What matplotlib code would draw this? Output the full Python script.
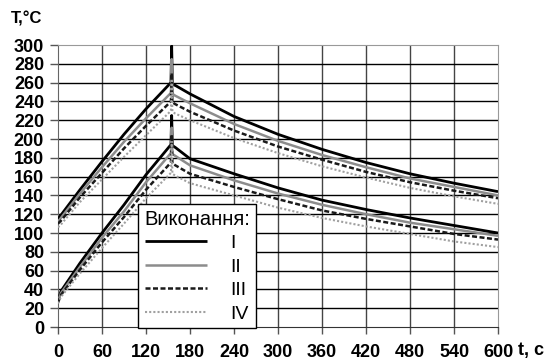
import matplotlib
matplotlib.use('Agg')
import matplotlib.pyplot as plt

plt.rcParams['font.family'] = ['Liberation Sans', 'DejaVu Sans']

# time, s
t = [0, 4, 30, 60, 90, 120, 154, 155, 156, 160, 180, 240, 300, 360, 420, 480, 540, 600]

# upper group of curves
up_I = [115, 119, 146, 176, 205, 232, 260, 299, 258, 257, 248, 224, 205, 189, 175, 163, 153, 144]
up_II = [112, 116, 142, 170, 197, 222, 249, 285, 248, 246, 238, 216, 198, 183, 170, 158, 149, 140]
up_III = [110, 113, 138, 164, 190, 214, 240, 270, 239, 237, 229, 209, 192, 178, 165, 154, 145, 137]
up_IV = [106, 109, 133, 157, 181, 204, 230, 262, 229, 227, 220, 201, 185, 171, 159, 148, 139, 131]

# lower group of curves
lo_I = [28, 38, 68, 100, 130, 162, 194, 225, 193, 191, 179, 163, 148, 135, 125, 116, 108, 100]
lo_II = [27, 36, 64, 95, 123, 154, 185, 212, 184, 182, 172, 156, 142, 130, 120, 111, 104, 97]
lo_III = [26, 34, 61, 90, 117, 146, 175, 205, 174, 172, 163, 149, 136, 124, 115, 107, 99, 93]
lo_IV = [25, 32, 57, 84, 110, 137, 164, 195, 163, 161, 153, 140, 127, 116, 107, 99, 91, 85]

labels = ['I', 'II', 'III', 'IV']
xticks = list(range(0, 601, 60))
yticks = list(range(0, 301, 20))

styles = [
    dict(color='black', lw=2.0, ls='-'),
    dict(color='#8c8c8c', lw=1.8, ls='-'),
    dict(color='#1a1a1a', lw=1.8, ls=(0, (2, 1))),
    dict(color='#a0a0a0', lw=1.5, ls=(0, (1, 1))),
]

fig = plt.figure(figsize=(5.49, 3.62), dpi=100)
ax = fig.add_axes([58/549, 1-327/362, 440/549, 282/362])

for x in xticks[1:-1]:
    ax.axvline(x, color='#444444', lw=1, zorder=1)
for y in yticks[1:-1]:
    ax.axhline(y, color='black', lw=1, zorder=1)

handles = []
for up, lo, st, lab in zip([up_I, up_II, up_III, up_IV], [lo_I, lo_II, lo_III, lo_IV], styles, labels):
    h, = ax.plot(t, up, label=lab, zorder=3, solid_capstyle='butt', **st)
    ax.plot(t, lo, zorder=3, solid_capstyle='butt', **st)
    handles.append(h)

ax.set_xlim(0, 600)
ax.set_ylim(0, 300)
ax.set_xticks(xticks)
ax.set_yticks(yticks)
ax.tick_params(axis='both', labelsize=13, width=1, color='#555555')
ax.tick_params(axis='x', length=5, pad=7)
ax.tick_params(axis='y', length=6, pad=4)
for lb in ax.get_xticklabels() + ax.get_yticklabels():
    lb.set_fontweight('bold')

ax.spines['top'].set_color('#999999')
ax.spines['right'].set_color('#999999')
ax.spines['left'].set_color('#666666')
ax.spines['bottom'].set_color('#333333')

leg = ax.legend(handles=handles, labels=labels, title='Виконання:',
                loc='lower left', bbox_to_anchor=(0.182, -0.005), borderaxespad=0,
                fontsize=14, title_fontsize=14.5, handlelength=3.2, handletextpad=1.2,
                labelspacing=0.3, borderpad=0.3, fancybox=False, framealpha=1,
                edgecolor='black')
leg.get_frame().set_linewidth(1)
leg.set_zorder(5)

fig.text(27/549, 1-19/362, 'T,°C', fontsize=12, fontweight='bold', ha='center', va='center')
fig.text(531/549, 1-350/362, 't, c', fontsize=13, fontweight='bold', ha='center', va='center')

fig.savefig('out.png', dpi=100)
